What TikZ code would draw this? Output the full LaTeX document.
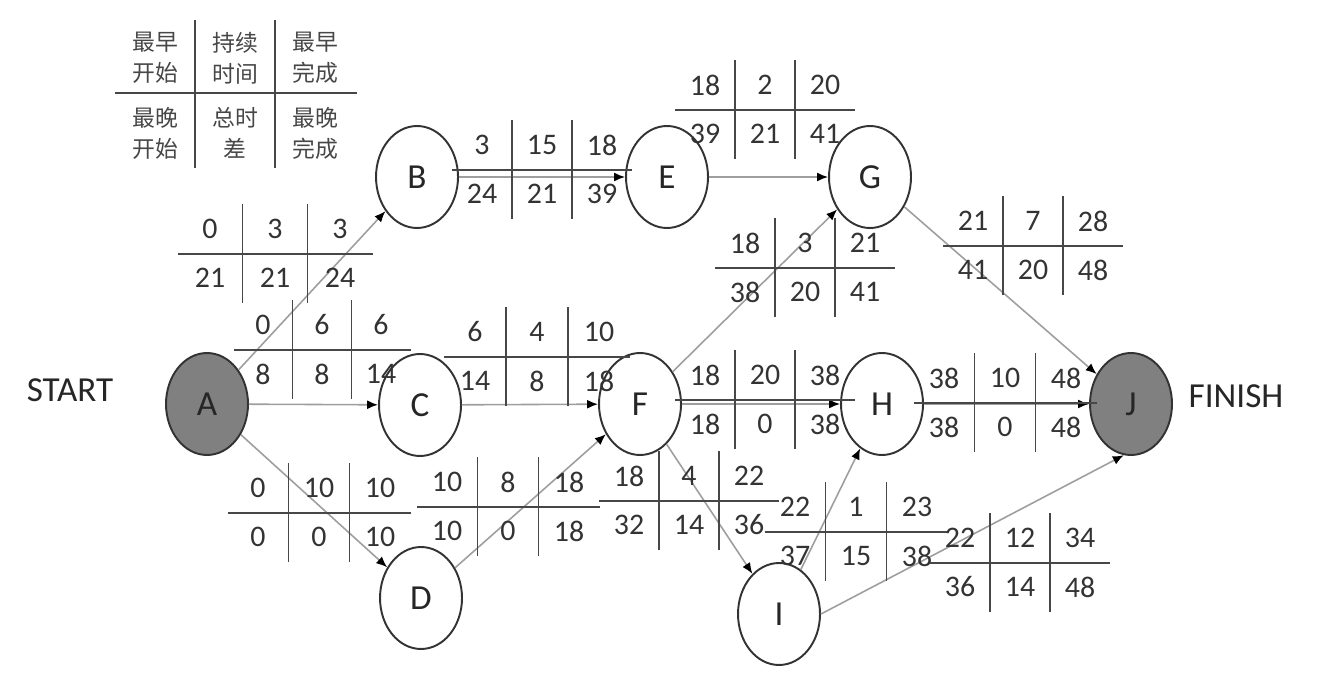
\documentclass[tikz,border=0pt]{standalone}
\usepackage{fontspec}
\setmainfont{Carlito}
\newfontfamily\cjk{Noto Sans CJK SC}
\usetikzlibrary{shapes.geometric,arrows.meta}

\begin{document}
\begin{tikzpicture}[x=0.02cm,y=-0.02cm,
  >={Latex[length=2.2mm,width=1.8mm,black]},
  ev/.style={ellipse,draw=black!80,line width=1.1pt,fill=white,
             minimum width=1.64cm,minimum height=2.04cm,inner sep=0pt,
             font=\fontsize{20}{24}\selectfont,text=black!85},
  endev/.style={ev,fill=black!50},
  act/.style={->,draw=black!38,line width=0.9pt},
  grid/.style={draw=black!72,line width=1.1pt},
  num/.style={font=\fontsize{17}{20}\selectfont,text=black!80,inner sep=0pt},
  lgd/.style={font=\cjk\fontsize{13}{17.6}\selectfont,text=black!72,
              align=center,inner sep=0pt},
  side/.style={font=\fontsize{20}{24}\selectfont,text=black!85,inner sep=0pt}]

\useasboundingbox (0,0) rectangle (1337,685);

% legend
\draw[grid,line width=1.5pt] (115,93) -- (357,93);
\draw[grid,line width=1.5pt] (195,20) -- (195,168) (275,20) -- (275,168);
\node[lgd] (lgd-es) at (155,58) {最早\\开始};
\node[lgd] (lgd-du) at (235,58) {持续\\时间};
\node[lgd] (lgd-ef) at (315,58) {最早\\完成};
\node[lgd] (lgd-ls) at (155,133) {最晚\\开始};
\node[lgd] (lgd-tf) at (235,133) {总时\\差};
\node[lgd] (lgd-lf) at (315,133) {最晚\\完成};

% events
\node[endev] (A) at (207,404) {A};
\node[ev] (B) at (417,177) {B};
\node[ev] (C) at (420,405) {C};
\node[ev] (D) at (421,598) {D};
\node[ev] (E) at (667,177) {E};
\node[ev] (F) at (640,404) {F};
\node[ev] (G) at (870,177) {G};
\node[ev] (H) at (882,404) {H};
\node[ev] (I) at (779,614) {I};
\node[endev] (J) at (1131,404) {J};
\node[side] (start) at (70,390) {START};
\node[side] (finish) at (1236,396) {FINISH};

% activities
\draw[act] (A) -- (B);
\draw[act] (A) -- (C);
\draw[act] (A) -- (D);
\draw[act] (B) -- (E);
\draw[act] (C) -- (F);
\draw[act] (D) -- (F);
\draw[act] (E) -- (G);
\draw[act] (F) -- (G);
\draw[act] (F) -- (H);
\draw[act] (F) -- (I);
\draw[act] (G) -- (J);
\draw[act] (H) -- (J);
\draw[act] (I) -- (H);
\draw[act] (I.east) -- (J.262);

% time tables on the activities
\foreach \n/\x/\y/\w/\es/\dur/\ef/\ls/\tfl/\lf in {
    ab/275/254/65/0/3/3/21/21/24,
    be/542/170/60/3/15/18/24/21/39,
    ac/322/350/59/0/6/6/8/8/14,
    cf/537/357/62/6/4/10/14/8/18,
    ad/319/513/61/0/10/10/0/0/10,
    df/508/507/61/10/8/18/10/0/18,
    eg/765/110/60/18/2/20/39/21/41,
    fg/805/268/60/18/3/21/38/20/41,
    gj/1033/246/60/21/7/28/41/20/48,
    fh/765/400/60/18/20/38/18/0/38,
    hj/1005/403/61/38/10/48/38/0/48,
    fi/689/501/60/18/4/22/32/14/36,
    ih/856/532/61/22/1/23/37/15/38,
    ij/1020/563/60/22/12/34/36/14/48}{
  \draw[grid] (\x-1.5*\w,\y) -- (\x+1.5*\w,\y);
  \draw[grid] (\x-0.5*\w,\y-50) -- (\x-0.5*\w,\y+49)
              (\x+0.5*\w,\y-50) -- (\x+0.5*\w,\y+49);
  \node[num] (\n-es) at (\x-\w,\y-25) {\es};
  \node[num] (\n-du) at (\x,\y-25) {\dur};
  \node[num] (\n-ef) at (\x+\w,\y-25) {\ef};
  \node[num] (\n-ls) at (\x-\w,\y+24) {\ls};
  \node[num] (\n-tf) at (\x,\y+24) {\tfl};
  \node[num] (\n-lf) at (\x+\w,\y+24) {\lf};
}
\end{tikzpicture}
\end{document}
